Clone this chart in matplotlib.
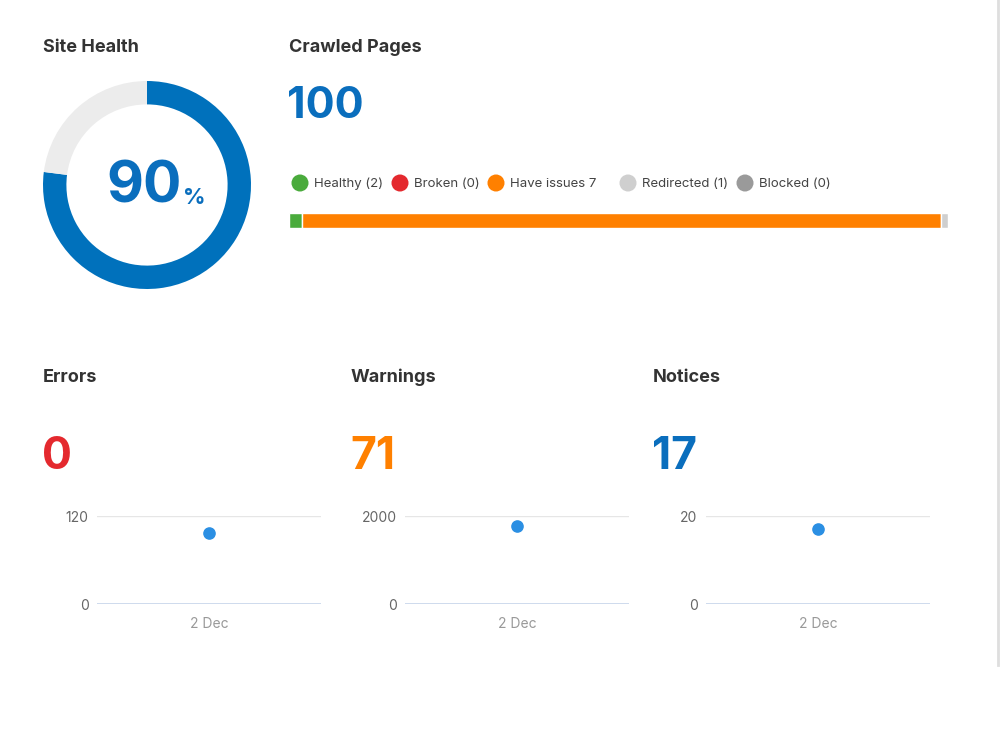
import matplotlib.pyplot as plt

plt.rcParams['font.family'] = ['Inter', 'DejaVu Sans']

# data
health_label = "90"
health_ring = [77, 23]            # filled / empty share of the donut
crawled_pages = "100"
page_cats = ["Healthy (2)", "Broken (0)", "Have issues 7", "Redirected (1)", "Blocked (0)"]
page_vals = [2, 0, 97, 1, 0]
page_cols = ["#4aab3c", "#e4292e", "#ff8000", "#cfcfcf", "#9a9a9a"]

panel_titles = ["Errors", "Warnings", "Notices"]
panel_totals = ["0", "71", "17"]
panel_colors = ["#e4292e", "#ff8000", "#0a6ebd"]
panel_ymax = [120, 2000, 20]
panel_dates = ["2 Dec"]
panel_values = [[97], [1770], [17]]

W, H = 1000, 750
fig = plt.figure(figsize=(10, 7.5), dpi=100)
fig.patch.set_facecolor("white")


def px_axes(x, y, w, h):
    return fig.add_axes([x / W, 1 - (y + h) / H, w / W, h / H])


def px_text(x, y, s, **kw):
    fig.text(x / W, 1 - y / H, s, **kw)


# overlay for decorations in pixel coordinates
over = fig.add_axes([0, 0, 1, 1], zorder=-1)
over.set_xlim(0, W)
over.set_ylim(H, 0)
over.axis("off")
over.plot([998, 998], [0, 665], color="#dedede", lw=2)

# Site Health
px_text(43, 47.5, "Site Health", fontsize=13, fontweight="bold", color="#333333", va="center")
ax = px_axes(43, 81, 208, 208)
ax.pie(health_ring, colors=["#0071bc", "#ececec"], startangle=90, counterclock=False,
       radius=1, wedgeprops=dict(width=0.225, edgecolor="none"))
ax.set_xlim(-1, 1)
ax.set_ylim(-1, 1)
ax.set_aspect("equal")
ax.text(0.335, -0.17, health_label, fontsize=41, fontweight="bold", color="#0a6ebd",
        ha="right", va="baseline")
ax.text(0.345, -0.185, "%", fontsize=16, fontweight="bold", color="#0a6ebd",
        ha="left", va="baseline")

# Crawled Pages
px_text(289, 47.5, "Crawled Pages", fontsize=13, fontweight="bold", color="#333333", va="center")
px_text(287, 106, crawled_pages, fontsize=31, fontweight="bold", color="#0a6ebd", va="center")

leg_x = [300, 400, 496, 628, 745]
for x, lab, c in zip(leg_x, page_cats, page_cols):
    over.scatter([x], [183], s=150, color=c, edgecolors="none")
    over.text(x + 14, 184, lab, fontsize=9.5, color="#444444", va="center")

bx = px_axes(289, 213, 659, 15)
left = 0
for v, c in zip(page_vals, page_cols):
    if v > 0:
        bx.barh([0], [v], left=left, height=1, color=c, edgecolor="white", linewidth=1)
    left += v
bx.set_xlim(0, sum(page_vals))
bx.set_ylim(-0.5, 0.5)
bx.axis("off")

# Errors / Warnings / Notices
title_x = [43, 351, 653]
axes_x = [97, 405, 706]
for i in range(3):
    px_text(title_x[i], 377.5, panel_titles[i], fontsize=13, fontweight="bold",
            color="#333333", va="center")
    px_text(title_x[i] - 1, 457, panel_totals[i], fontsize=32, fontweight="bold",
            color=panel_colors[i], va="center")
    a = px_axes(axes_x[i], 516, 224, 88)
    a.scatter(range(len(panel_dates)), panel_values[i], s=65, color="#2b8fe3", zorder=3, clip_on=False)
    a.set_xlim(-1, 1)
    a.set_ylim(0, panel_ymax[i])
    a.set_yticks([0, panel_ymax[i]])
    a.set_xticks(range(len(panel_dates)))
    a.set_xticklabels(panel_dates)
    a.axhline(panel_ymax[i], color="#e6e6e6", lw=1)
    a.axhline(0, color="#c6d4ea", lw=1.2)
    for s in a.spines.values():
        s.set_visible(False)
    a.tick_params(length=0, labelsize=10, colors="#666666", pad=6)
    a.tick_params(axis="x", colors="#999999", pad=9)
    a.set_facecolor("none")

fig.savefig("out.png", dpi=100, facecolor="white")
